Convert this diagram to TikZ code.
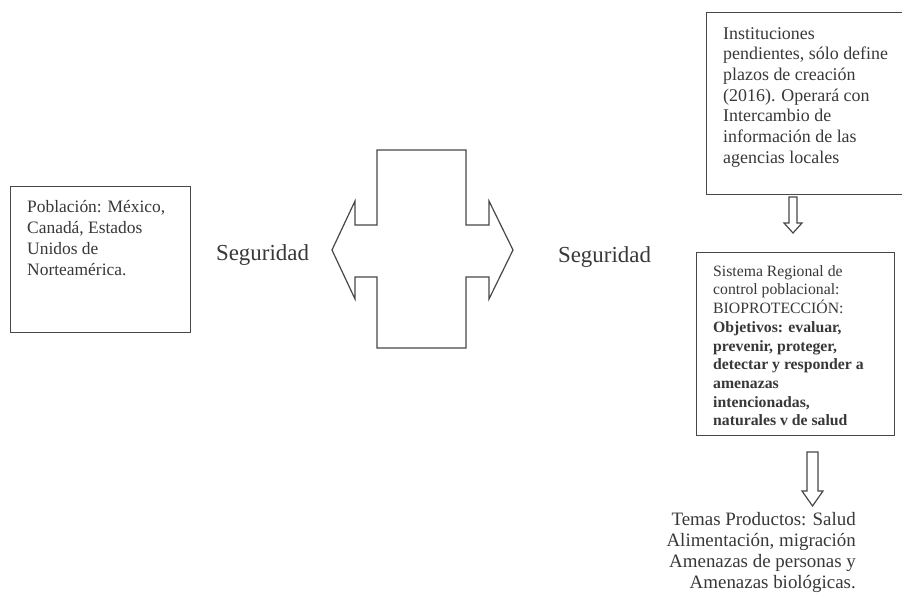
\documentclass[tikz,border=0pt]{standalone}
\usepackage{fontspec}
\setmainfont{Liberation Serif}
\begin{document}
\begin{tikzpicture}[x=1bp,y=-1bp,
  ink/.style={draw=black!72, line width=1.2bp, line join=miter},
  panel/.style={ink, fill=none, inner sep=0, anchor=north west},
  copy/.style={text=black!78, inner sep=0, anchor=north west, align=left},
]
\useasboundingbox (0,0) rectangle (902,593);
\fill[white] (0,0) rectangle (902,593);

% boxes
\node[panel, minimum width=180bp, minimum height=146bp] (pob) at (10,186) {};
\node[panel, minimum width=200bp, minimum height=182bp] (inst) at (706,12) {};
\node[panel, minimum width=198bp, minimum height=183bp] (sist) at (696,252) {};

% box texts
\node[copy, font=\fontsize{17.5}{21}\selectfont] (pobtxt) at (27,200)
  {Población: México,\\Canadá, Estados\\Unidos de\\Norteamérica.};
\node[copy, font=\fontsize{18}{20.8}\selectfont] (insttxt) at (723,27)
  {Instituciones\\pendientes, sólo define\\plazos de creación\\(2016). Operará con\\Intercambio de\\información de las\\agencias locales};
\node[copy, font=\fontsize{15.8}{18.8}\selectfont] (sisttxt) at (713,265)
  {Sistema Regional de\\control poblacional:\\BIOPROTECCIÓN:\\
   \textbf{Objetivos: evaluar,}\\\textbf{prevenir, proteger,}\\
   \textbf{detectar y responder a}\\\textbf{amenazas}\\
   \textbf{intencionadas,}\\\textbf{naturales v de salud}};

% labels beside the cross
\node[text=black!78, inner sep=0, font=\fontsize{23}{26}\selectfont] (seg1) at (262.5,255) {Seguridad};
\node[text=black!78, inner sep=0, font=\fontsize{23}{26}\selectfont] (seg2) at (604.5,257) {Seguridad};

% double-headed cross
\draw[ink] (377,150) -- (466,150) -- (466,225) -- (489,225) -- (489,201)
  -- (513,250) -- (489,299) -- (489,277) -- (466,277) -- (466,348)
  -- (377,348) -- (377,277) -- (355,277) -- (355,299) -- (332,250)
  -- (355,201) -- (355,225) -- (377,225) -- cycle;

% block arrows downward
\draw[ink] (789,197) -- (797,197) -- (797,223) -- (802,223) -- (793,233)
  -- (784,223) -- (789,223) -- cycle;
\draw[ink] (807,452) -- (818,452) -- (818,491) -- (823,491) -- (812.5,506)
  -- (802,491) -- (807,491) -- cycle;

% outcome text
\node[text=black!78, inner sep=0, anchor=north east, align=right,
  font=\fontsize{19}{21}\selectfont] (temas) at (856,512)
  {Temas Productos: Salud\\Alimentación, migración\\Amenazas de personas y\\Amenazas biológicas.};
\end{tikzpicture}
\end{document}
